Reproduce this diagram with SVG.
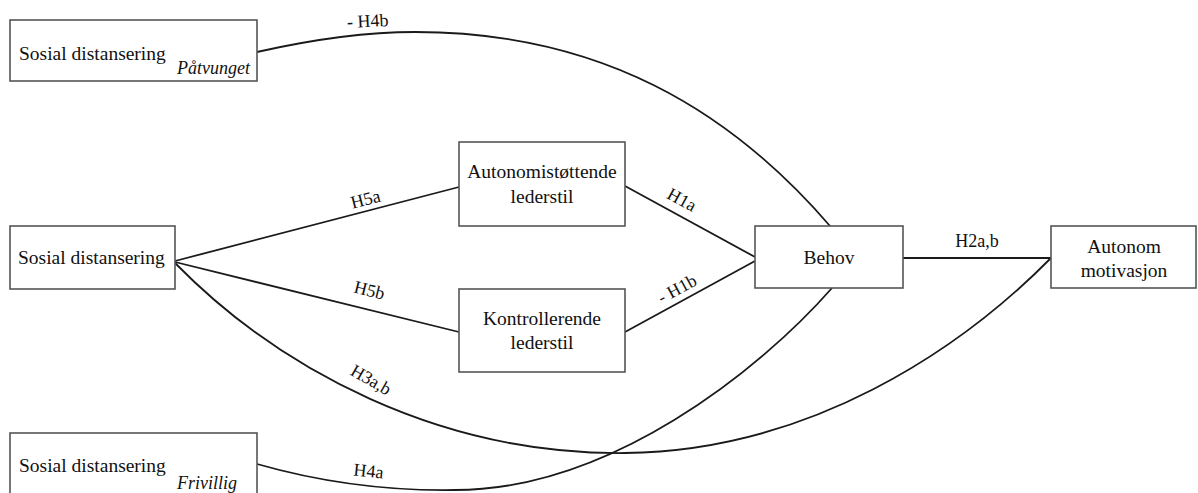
<svg xmlns="http://www.w3.org/2000/svg" width="1198" height="493" viewBox="0 0 1198 493">
<style>
text{font-family:'Liberation Serif','Tinos','DejaVu Serif','Noto Serif',serif;fill:#111}
.box{fill:#fff;stroke:#555;stroke-width:1.6}
.t{font-size:19.5px}
.c{text-anchor:middle}
.it{font-size:18px;font-style:italic}
.lbl{font-size:18px;text-anchor:middle}
.ln{fill:none;stroke:#1a1a1a;stroke-width:1.8}
</style>
<rect width="1198" height="493" fill="#fff"/>
<g id="connectors" font-family="Liberation Serif, serif">
<path class="ln" d="M257,52 C310,40 360,32 415,32 C600,32 730,110 830,226"/>
<line class="ln" x1="175" y1="261" x2="459" y2="187"/>
<line class="ln" x1="175" y1="262" x2="459" y2="332"/>
<path class="ln" d="M175,263 C280,370 440,455 625,453 C810,451 960,350 1051,258"/>
<path class="ln" d="M257,464 C320,482 390,491 455,490 C610,490 760,370 832,288"/>
<line class="ln" x1="625" y1="186" x2="755" y2="257"/>
<line class="ln" x1="625" y1="332" x2="755" y2="261"/>
<line class="ln" x1="903" y1="258" x2="1051" y2="258"/>
<text class="lbl" transform="translate(368,27) rotate(-3)">- H4b</text>
<text class="lbl" transform="translate(367,205) rotate(-14.4)">H5a</text>
<text class="lbl" transform="translate(368,296) rotate(14)">H5b</text>
<text class="lbl" transform="translate(368,385) rotate(30)">H3a,b</text>
<text class="lbl" transform="translate(368,477) rotate(6)">H4a</text>
<text class="lbl" transform="translate(679,205) rotate(28.6)">H1a</text>
<text class="lbl" transform="translate(680,294) rotate(-28.6)">- H1b</text>
<text class="lbl" x="977" y="247">H2a,b</text>
</g>
<g id="node-patvunget" font-family="Liberation Serif, serif">
<rect class="box" x="10" y="20" width="247" height="61"/>
<text class="t" x="19" y="60">Sosial distansering</text>
<text class="it" x="177" y="74">Påtvunget</text>
</g>
<g id="node-sosial">
<rect class="box" x="10" y="226" width="165" height="63"/>
<text class="t" x="18" y="264">Sosial distansering</text>
</g>
<g id="node-frivillig">
<rect class="box" x="10" y="433" width="247" height="70"/>
<text class="t" x="19" y="472">Sosial distansering</text>
<text class="it" x="177" y="489">Frivillig</text>
</g>
<g id="node-autonomistottende">
<rect class="box" x="459" y="142" width="166" height="84"/>
<text class="t c" x="542" y="178">Autonomistøttende</text>
<text class="t c" x="542" y="203">lederstil</text>
</g>
<g id="node-kontrollerende">
<rect class="box" x="459" y="289" width="166" height="83"/>
<text class="t c" x="542" y="325">Kontrollerende</text>
<text class="t c" x="542" y="349">lederstil</text>
</g>
<g id="node-behov">
<rect class="box" x="755" y="226" width="148" height="62"/>
<text class="t c" x="829" y="264">Behov</text>
</g>
<g id="node-autonom-motivasjon">
<rect class="box" x="1051" y="226" width="145" height="62"/>
<text class="t c" x="1124" y="253">Autonom</text>
<text class="t c" x="1124" y="277">motivasjon</text>
</g>
</svg>
